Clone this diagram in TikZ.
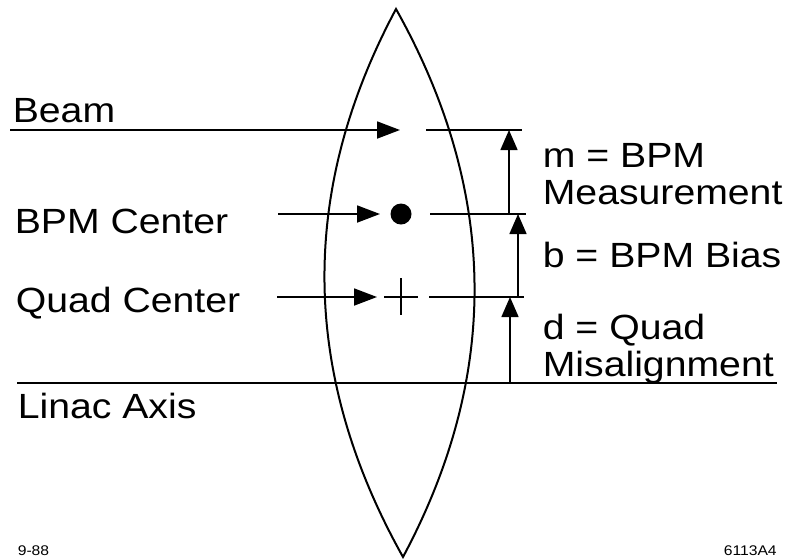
\documentclass[tikz,border=0pt]{standalone}
\usepackage{fontspec}
\setmainfont{Liberation Sans}[FakeStretch=1.12]
\usetikzlibrary{arrows.meta}

\begin{document}
\begin{tikzpicture}[x=1pt,y=-1pt,line width=1.6pt,
  lbl/.style={anchor=base west, inner sep=0pt, font=\fontsize{35}{36}\selectfont},
  lbltwo/.style={anchor=north west, inner sep=0pt, align=left, font=\fontsize{35}{37}\selectfont},
  tinylbl/.style={anchor=base west, inner sep=0pt, font=\fontsize{14}{15}\selectfont},
  pointer/.style={-{Triangle[length=23pt,width=17pt]}, line width=1.8pt},
  riser/.style={-{Triangle[length=20pt,width=17pt]}, line width=1.5pt}]
\useasboundingbox (0,0) rectangle (794,558);
% lens
\coordinate (lensTop) at (396,9);
\coordinate (lensBot) at (403,557);
\draw[line width=2pt] (lensTop) .. controls (298.3,191.7) and (300.7,374.3) .. (lensBot)
  .. controls (500.7,374.3) and (498.3,191.7) .. (lensTop) -- cycle;
% beam, bpm and quad positions
\coordinate (beamStart) at (10,130);
\coordinate (beamEnd) at (400,130);
\coordinate (bpmStart) at (278,214);
\coordinate (bpmEnd) at (380,214);
\coordinate (quadStart) at (277,297);
\coordinate (quadEnd) at (377,297);
\draw[pointer] (beamStart) -- (beamEnd);
\draw[pointer] (bpmStart) -- (bpmEnd);
\draw[pointer] (quadStart) -- (quadEnd);
\fill (401,214) circle (10.5);
\draw[line width=1.5pt] (384,297) -- (418,297);
\draw[line width=1.5pt] (401,278) -- (401,315);
% reference levels
\coordinate (beamLvlA) at (426,130);
\coordinate (beamLvlB) at (522,130);
\coordinate (bpmLvlA) at (430,214);
\coordinate (bpmLvlB) at (526,214);
\coordinate (quadLvlA) at (429,297);
\coordinate (quadLvlB) at (524,297);
\coordinate (axisL) at (17,383);
\coordinate (axisR) at (777,383);
\draw (beamLvlA) -- (beamLvlB);
\draw (bpmLvlA) -- (bpmLvlB);
\draw (quadLvlA) -- (quadLvlB);
\draw (axisL) -- (axisR);
% offsets
\draw[riser] (509,214) -- (509,130);
\draw[riser] (518,297) -- (518,214);
\draw[riser] (510,383) -- (510,297);
% labels
\node[lbl] (beamLabel) at (12,122) {Beam};
\node[lbl] (bpmLabel) at (14,233) {BPM Center};
\node[lbl] (quadLabel) at (15,312) {Quad Center};
\node[lbl] (axisLabel) at (17,418) {Linac Axis};
\node[lbltwo] (mLabel) at (542,143) {m = BPM\\Measurement};
\node[lbl] (bLabel) at (542,267) {b = BPM Bias};
\node[lbltwo] (dLabel) at (542,313) {d = Quad\\Misalignment};
\node[tinylbl] (dateLabel) at (17,555) {9-88};
\node[tinylbl] (figLabel) at (723,555) {6113A4};
\end{tikzpicture}
\end{document}
